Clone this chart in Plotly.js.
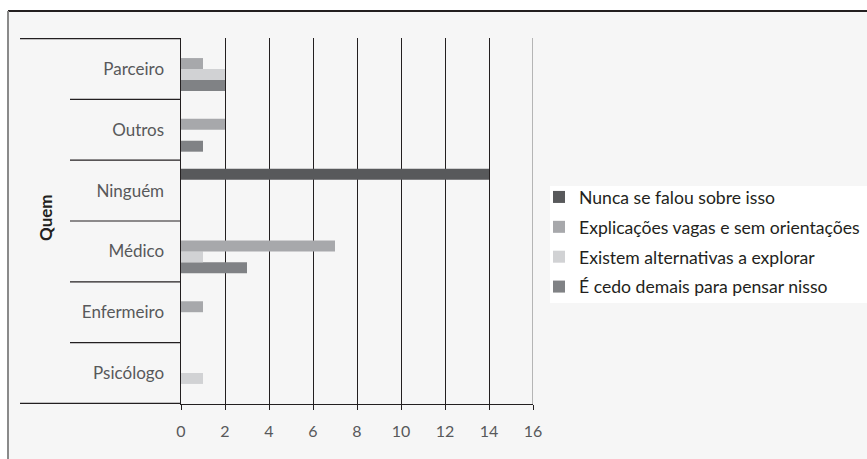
<!DOCTYPE html>
<html>
<head>
<meta charset="utf-8">
<script src="https://cdn.plot.ly/plotly-3.0.1.min.js"></script>
<style>html,body{margin:0;padding:0;background:#fff;}#chart{width:867px;height:459px;}</style>
</head>
<body>
<div id="chart"></div>
<script>
// Categories (bottom to top)
const categories = ["Psicólogo", "Enfermeiro", "Médico", "Ninguém", "Outros", "Parceiro"];
// Series values aligned with categories
const seriesNames = ["Nunca se falou sobre isso", "Explicações vagas e sem orientações", "Existem alternativas a explorar", "É cedo demais para pensar nisso"];
const nunca       = [0, 0, 0, 14, 0, 0];
const explicacoes = [0, 1, 7, 0, 2, 1];
const existem     = [1, 0, 1, 0, 0, 2];
const cedo        = [0, 0, 3, 0, 1, 2];
const colors = ["#58595b", "#a7a8ab", "#d1d2d4", "#808285"];
const xTicks = [0, 2, 4, 6, 8, 10, 12, 14, 16];
const axisTitle = "Quem";

const W = 867, H = 459;
const M = {l: 181, r: 334, t: 38, b: 55, autoexpand: false};
const pw = W - M.l - M.r, ph = H - M.t - M.b;
const px = x => (x - M.l) / pw;
const py = y => (H - M.b - y) / ph;

const values = [nunca, explicacoes, existem, cedo];
// Add in reverse so first series is on top of each group
const traces = [];
for (let i = 3; i >= 0; i--) {
  traces.push({
    type: "bar", orientation: "h",
    y: categories, x: values[i], name: seriesNames[i],
    legendgroup: "g" + i, legendrank: i + 1,
    marker: {color: colors[i], line: {width: 0}},
    hoverinfo: "x+y"
  });
}

const shapes = [];
// chart frame background
shapes.push({type: "rect", xref: "paper", yref: "paper", x0: px(8), x1: px(W), y0: py(H), y1: py(11), fillcolor: "#f6f6f6", line: {width: 0}, layer: "below"});
shapes.push({type: "line", xref: "paper", yref: "paper", x0: px(8), x1: px(W), y0: py(11), y1: py(11), line: {color: "#231f20", width: 2}});
shapes.push({type: "line", xref: "paper", yref: "paper", x0: px(8), x1: px(8), y0: py(11), y1: py(H), line: {color: "#8a8a8a", width: 2}});
// legend box
shapes.push({type: "rect", xref: "paper", yref: "paper", x0: px(550), x1: px(W), y0: py(303), y1: py(186), fillcolor: "#ffffff", line: {width: 0}, layer: "below"});
// category separators
for (let k = 0; k <= categories.length; k++) {
  const outer = (k === 0 || k === categories.length);
  shapes.push({type: "line", xref: "paper", yref: "y", x0: px(outer ? 20 : 70), x1: 0, y0: k - 0.5, y1: k - 0.5, line: {color: "#231f20", width: 1.2}});
}
// last gridline
shapes.push({type: "line", xref: "x", yref: "paper", x0: 16, x1: 16, y0: 0, y1: 1, line: {color: "#8a8a8a", width: 1.2}});

const layout = {
  width: W, height: H,
  margin: M,
  paper_bgcolor: "#ffffff",
  plot_bgcolor: "rgba(0,0,0,0)",
  barmode: "group", bargap: 0.28, bargroupgap: 0,
  font: {family: "Lato, sans-serif", color: "#58595b"},
  xaxis: {
    range: [0, 16], tickvals: xTicks, ticktext: xTicks.map(String),
    showgrid: true, gridcolor: "#231f20", gridwidth: 1,
    showline: true, linecolor: "#231f20", linewidth: 1,
    ticks: "outside", ticklen: 5, tickcolor: "#231f20",
    tickfont: {size: 16, color: "#58595b"}, ticklabelstandoff: 8,
    zeroline: false, fixedrange: true, automargin: false
  },
  yaxis: {
    type: "category", categoryorder: "array", categoryarray: categories,
    showgrid: false, showline: true, linecolor: "#231f20", linewidth: 1.5,
    ticks: "", tickfont: {size: 17, color: "#58595b"}, ticklabelstandoff: 12,
    fixedrange: true, automargin: false
  },
  legend: {
    x: px(539), y: py(179), xanchor: "left", yanchor: "top",
    traceorder: "grouped", tracegroupgap: 4, bgcolor: "rgba(0,0,0,0)",
    font: {size: 17.6, color: "#231f20"}
  },
  annotations: [{
    text: "<b>" + axisTitle + "</b>", xref: "paper", yref: "paper",
    x: px(45), y: py(218), xanchor: "center", yanchor: "middle", textangle: -90, showarrow: false,
    font: {size: 17, color: "#231f20"}
  }],
  shapes: shapes,
  showlegend: true
};

Plotly.newPlot("chart", traces, layout, {displayModeBar: false, staticPlot: true});
</script>
</body>
</html>
